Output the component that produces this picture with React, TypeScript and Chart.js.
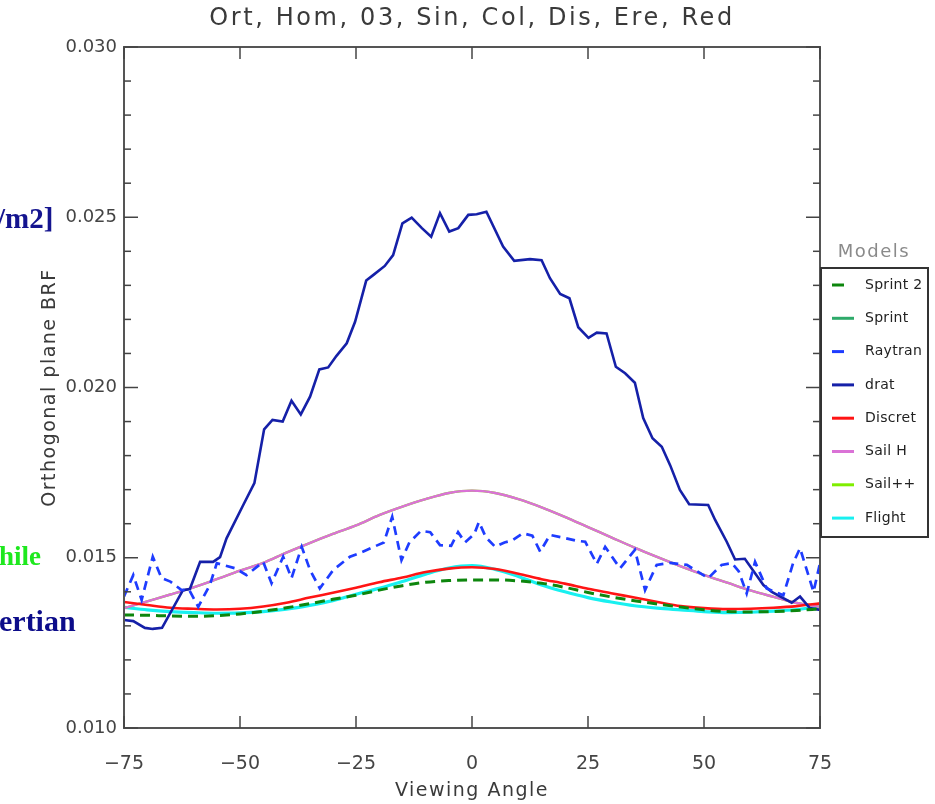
import React, { useEffect, useRef } from 'react';
import { Chart, registerables } from 'chart.js';

Chart.register(...registerables);

// ---------- text ----------
const chartTitle = 'Ort, Hom, 03, Sin, Col, Dis, Ere, Red';
const xAxisTitle = 'Viewing Angle';
const yAxisTitle = 'Orthogonal plane BRF';
const legendTitle = 'Models';
const strayTexts = ['/m2]', 'hile', 'ertian'];

// ---------- ticks ----------
const xTicks = [-75, -50, -25, 0, 25, 50, 75];
const xTickLabels = ['\u221275', '\u221250', '\u221225', '0', '25', '50', '75'];
const yTicks = [0.010, 0.015, 0.020, 0.025, 0.030];
const yTickLabels = ['0.010', '0.015', '0.020', '0.025', '0.030'];

// ---------- smooth model series (5 degree grid) ----------
const smoothAngles = [-75, -70, -65, -60, -55, -50, -45, -40, -35, -30, -25, -20, -15, -10, -5, 0,
  5, 10, 15, 20, 25, 30, 35, 40, 45, 50, 55, 60, 65, 70, 75];
const sprint2Values = [0.01332, 0.01331, 0.01329, 0.01328, 0.01330, 0.01335, 0.01343, 0.01353, 0.01365, 0.01378,
  0.01390, 0.01405, 0.01418, 0.01428, 0.01433, 0.01435, 0.01435, 0.01432, 0.01425, 0.01413, 0.01398,
  0.01385, 0.01374, 0.01364, 0.01355, 0.01347, 0.01342, 0.01341, 0.01342, 0.01345, 0.01350];
const discretValues = [0.01370, 0.01361, 0.01353, 0.01350, 0.01348, 0.01350, 0.01357, 0.01368, 0.01383, 0.01397,
  0.01412, 0.01428, 0.01442, 0.01458, 0.01468, 0.01472, 0.01467, 0.01453, 0.01437, 0.01424, 0.01409,
  0.01396, 0.01383, 0.01370, 0.01358, 0.01352, 0.01349, 0.01350, 0.01353, 0.01358, 0.01366];
const flightValues = [0.01354, 0.01347, 0.01342, 0.01339, 0.01337, 0.01338, 0.01342, 0.01349, 0.01360, 0.01374,
  0.01393, 0.01410, 0.01430, 0.01452, 0.01470, 0.01477, 0.01466, 0.01445, 0.01420, 0.01400, 0.01383,
  0.01370, 0.01359, 0.01352, 0.01347, 0.01342, 0.01339, 0.01340, 0.01343, 0.01348, 0.01356];
const sailHValues = [0.01352, 0.01372, 0.01392, 0.01413, 0.01437, 0.01462, 0.01485, 0.01515, 0.01543, 0.01570,
  0.01595, 0.01625, 0.01650, 0.01672, 0.01690, 0.01697, 0.01690, 0.01672, 0.01648, 0.01620, 0.01590,
  0.01560, 0.01530, 0.01502, 0.01475, 0.01450, 0.01427, 0.01404, 0.01385, 0.01367, 0.01356];
const sailPlusValues = [0.01352, 0.01372, 0.01392, 0.01413, 0.01437, 0.01462, 0.01485, 0.01515, 0.01543, 0.01570,
  0.01595, 0.01625, 0.01650, 0.01672, 0.01690, 0.01697, 0.01690, 0.01672, 0.01648, 0.01620, 0.01590,
  0.01560, 0.01530, 0.01502, 0.01475, 0.01450, 0.01427, 0.01404, 0.01385, 0.01367, 0.01356];
const sprintAngles: number[] = [];
const sprintValues: number[] = [];

// ---------- drat ----------
const dratAngles = [-75, -73, -70.5, -68.8, -66.8, -62.3, -60.8, -58.6, -55.8, -54.3, -52.9, -49.3, -46.9, -44.8,
  -43, -40.8, -38.9, -36.9, -34.9, -32.9, -31, -29.2, -27, -25.2, -22.8, -21.3, -18.8, -17, -15, -13, -10.8,
  -8.8, -6.9, -4.9, -2.95, -0.8, 1, 3.1, 6.7, 9.1, 12.5, 15, 16.8, 19, 21, 22.9, 25.1, 26.9, 29, 31, 33, 35.1,
  36.9, 38.9, 40.9, 42.7, 44.8, 46.8, 50.9, 52.4, 54.9, 56.7, 58.8, 62.8, 64.6, 68.9, 70.7, 72.8, 75];
const dratValues = [0.01317, 0.01314, 0.01294, 0.01291, 0.01294, 0.01405, 0.01408, 0.01488, 0.01488, 0.01502,
  0.01557, 0.01655, 0.01719, 0.01877, 0.01905, 0.01900, 0.01961, 0.01921, 0.01973, 0.02053, 0.02059, 0.02093,
  0.02130, 0.02193, 0.02314, 0.02330, 0.02357, 0.02389, 0.02482, 0.02499, 0.02468, 0.02443, 0.02512, 0.02458,
  0.02468, 0.02507, 0.02509, 0.02516, 0.02414, 0.02372, 0.02377, 0.02374, 0.02321, 0.02275, 0.02262, 0.02177,
  0.02146, 0.02161, 0.02159, 0.02061, 0.02042, 0.02014, 0.01910, 0.01851, 0.01826, 0.01772, 0.01699, 0.01657,
  0.01655, 0.01611, 0.01547, 0.01495, 0.01497, 0.01420, 0.01400, 0.01368, 0.01386, 0.01352, 0.01347];

// ---------- Raytran ----------
const raytranAngles = [-75, -73, -71.2, -68.8, -66.9, -65, -62.6, -61, -59, -56.5, -55, -51, -48.6, -45, -43.2,
  -40.7, -38.9, -36.7, -34.9, -32.8, -29.9, -26.3, -24, -21.5, -19, -17.2, -15.2, -13.5, -11, -9, -6.9, -4.5,
  -3, -1.5, 0.5, 1.5, 3, 5, 7, 8.6, 11, 13, 14.7, 16.8, 20, 22.5, 24.4, 26.9, 28.7, 31.9, 35.1, 37.3, 39.8,
  42.7, 46.3, 50.9, 53.8, 56, 57.5, 59.2, 61, 63.5, 67.1, 69.2, 70.7, 73.6, 75];
const raytranValues = [0.01386, 0.01449, 0.01376, 0.01503, 0.01440, 0.01430, 0.01405, 0.01407, 0.01356, 0.01420,
  0.01484, 0.01469, 0.01449, 0.01488, 0.01425, 0.01503, 0.01440, 0.01532, 0.01464, 0.01410, 0.01464, 0.01503,
  0.01515, 0.01530, 0.01545, 0.01620, 0.01493, 0.01545, 0.01579, 0.01575, 0.01537, 0.01535, 0.01575, 0.01545,
  0.01570, 0.01605, 0.01560, 0.01532, 0.01545, 0.01550, 0.01572, 0.01565, 0.01518, 0.01567, 0.01558, 0.01550,
  0.01547, 0.01482, 0.01532, 0.01469, 0.01523, 0.01405, 0.01479, 0.01485, 0.01479, 0.01440, 0.01479, 0.01484,
  0.01460, 0.01395, 0.01488, 0.01410, 0.01390, 0.01484, 0.01528, 0.01400, 0.01484];

const pts = (xs: number[], ys: number[]) => xs.map((x, i) => ({ x, y: ys[i] }));

const FONT = 'DejaVu Sans';

const decorPlugin = {
  id: 'decor',
  afterDraw(chart: any) {
    const { ctx, chartArea: ca, scales } = chart;
    const xs = scales.x;
    const ys = scales.y;
    ctx.save();
    const seg = (x1: number, y1: number, x2: number, y2: number) => {
      ctx.beginPath();
      ctx.moveTo(x1, y1);
      ctx.lineTo(x2, y2);
      ctx.stroke();
    };
    // plot frame
    ctx.strokeStyle = '#555';
    ctx.lineWidth = 2;
    ctx.strokeRect(ca.left, ca.top, ca.right - ca.left, ca.bottom - ca.top);
    // x ticks (bottom and top, inward)
    ctx.lineWidth = 1.5;
    ctx.strokeStyle = '#444';
    xTicks.forEach((v) => {
      const px = xs.getPixelForValue(v);
      seg(px, ca.bottom, px, ca.bottom - 12);
      seg(px, ca.top, px, ca.top + 12);
    });
    // y ticks (left and right, inward), minor every 0.001
    for (let i = 0; i <= 20; i++) {
      const v = 0.010 + i * 0.001;
      const py = ys.getPixelForValue(v);
      const len = i % 5 === 0 ? 14 : 7;
      seg(ca.left, py, ca.left + len, py);
      seg(ca.right, py, ca.right - len, py);
    }
    // title
    ctx.fillStyle = '#3a3a3a';
    ctx.textAlign = 'center';
    ctx.textBaseline = 'middle';
    ctx.font = `24px "${FONT}"`;
    (ctx as any).letterSpacing = '2.6px';
    ctx.fillText(chartTitle, (ca.left + ca.right) / 2, 19);
    // x title
    ctx.font = `19px "${FONT}"`;
    (ctx as any).letterSpacing = '1.5px';
    ctx.fillText(xAxisTitle, (ca.left + ca.right) / 2, 791);
    // y title
    ctx.save();
    ctx.translate(50, (ca.top + ca.bottom) / 2);
    ctx.rotate(-Math.PI / 2);
    ctx.fillText(yAxisTitle, 0, 0);
    ctx.restore();
    // legend
    const bx = 821, by = 268, bw = 107, bh = 269;
    ctx.fillStyle = '#ffffff';
    ctx.fillRect(bx, by, bw, bh);
    ctx.strokeStyle = '#333';
    ctx.lineWidth = 2;
    ctx.strokeRect(bx, by, bw, bh);
    ctx.fillStyle = '#8a8a8a';
    ctx.font = `18px "${FONT}"`;
    (ctx as any).letterSpacing = '1.5px';
    ctx.textAlign = 'center';
    ctx.fillText(legendTitle, bx + 53, 252);
    ctx.font = `14px "${FONT}"`;
    (ctx as any).letterSpacing = '0.3px';
    ctx.textAlign = 'left';
    chart.data.datasets.forEach((ds: any, i: number) => {
      const y = 285 + i * 33.3;
      ctx.strokeStyle = ds.borderColor;
      ctx.lineWidth = 3;
      ctx.setLineDash([]);
      const len = ds.borderDash && ds.borderDash.length ? 12 : 22;
      seg(832, y, 832 + len, y);
      ctx.fillStyle = '#222';
      ctx.fillText(ds.label, 865, y);
    });
    // stray fragments on the left edge
    (ctx as any).letterSpacing = '0px';
    ctx.textBaseline = 'alphabetic';
    ctx.font = `bold 29px "Liberation Serif"`;
    ctx.fillStyle = '#14148f';
    ctx.fillText(strayTexts[0], -3, 228);
    ctx.font = `bold 27px "Liberation Serif"`;
    ctx.fillStyle = '#1ee81e';
    ctx.fillText(strayTexts[1], -1, 565);
    ctx.font = `bold 30px "Liberation Serif"`;
    ctx.fillStyle = '#0c0c8a';
    ctx.fillText(strayTexts[2], -1, 631);
    ctx.restore();
  },
};

export default function App() {
  const ref = useRef<HTMLCanvasElement | null>(null);
  useEffect(() => {
    document.body.style.margin = '0';
    const canvas = ref.current;
    if (!canvas) return;
    const datasets = [
      { label: 'Sprint 2', data: pts(smoothAngles, sprint2Values), borderColor: '#0d860d', borderWidth: 3, borderDash: [10, 6], cubicInterpolationMode: 'monotone' },
      { label: 'Sprint', data: pts(sprintAngles, sprintValues), borderColor: '#2eaa6a', borderWidth: 3 },
      { label: 'Raytran', data: pts(raytranAngles, raytranValues), borderColor: '#1e3cff', borderWidth: 2.7, borderDash: [9, 6], tension: 0 },
      { label: 'drat', data: pts(dratAngles, dratValues), borderColor: '#1520a8', borderWidth: 2.6, tension: 0 },
      { label: 'Discret', data: pts(smoothAngles, discretValues), borderColor: '#ff1414', borderWidth: 2.6, cubicInterpolationMode: 'monotone' },
      { label: 'Sail H', data: pts(smoothAngles, sailHValues), borderColor: '#da72d6', borderWidth: 2.4, cubicInterpolationMode: 'monotone' },
      { label: 'Sail++', data: pts(smoothAngles, sailPlusValues), borderColor: '#7fee00', borderWidth: 2.4, cubicInterpolationMode: 'monotone' },
      { label: 'Flight', data: pts(smoothAngles, flightValues), borderColor: '#18f0f0', borderWidth: 3.2, cubicInterpolationMode: 'monotone' },
    ];
    const chart = new Chart(canvas, {
      type: 'line',
      data: { datasets: datasets as any },
      options: {
        responsive: false,
        animation: false,
        layout: { padding: { left: 0, right: 115, top: 47, bottom: 0 } },
        elements: { point: { radius: 0 }, line: { fill: false } },
        plugins: { legend: { display: false }, title: { display: false }, tooltip: { enabled: false } },
        scales: {
          x: {
            type: 'linear',
            min: -75,
            max: 75,
            afterBuildTicks: (s: any) => { s.ticks = xTicks.map((v) => ({ value: v })); },
            afterFit: (s: any) => { s.height = 76; },
            grid: { display: false, drawTicks: false },
            border: { display: false },
            ticks: {
              padding: 25,
              color: '#444',
              font: { family: FONT, size: 19 },
              maxRotation: 0,
              autoSkip: false,
              callback: (_v: any, i: number) => xTickLabels[i],
            },
          },
          y: {
            type: 'linear',
            min: 0.010,
            max: 0.030,
            afterBuildTicks: (s: any) => { s.ticks = yTicks.map((v) => ({ value: v })); },
            afterFit: (s: any) => { s.width = 124; },
            grid: { display: false, drawTicks: false },
            border: { display: false },
            ticks: {
              padding: 7,
              color: '#444',
              font: { family: FONT, size: 18 },
              autoSkip: false,
              callback: (_v: any, i: number) => yTickLabels[i],
            },
          },
        },
      },
      plugins: [decorPlugin],
    });
    return () => chart.destroy();
  }, []);
  return <canvas ref={ref} width={935} height={804} style={{ display: 'block', width: 935, height: 804 }} />;
}
